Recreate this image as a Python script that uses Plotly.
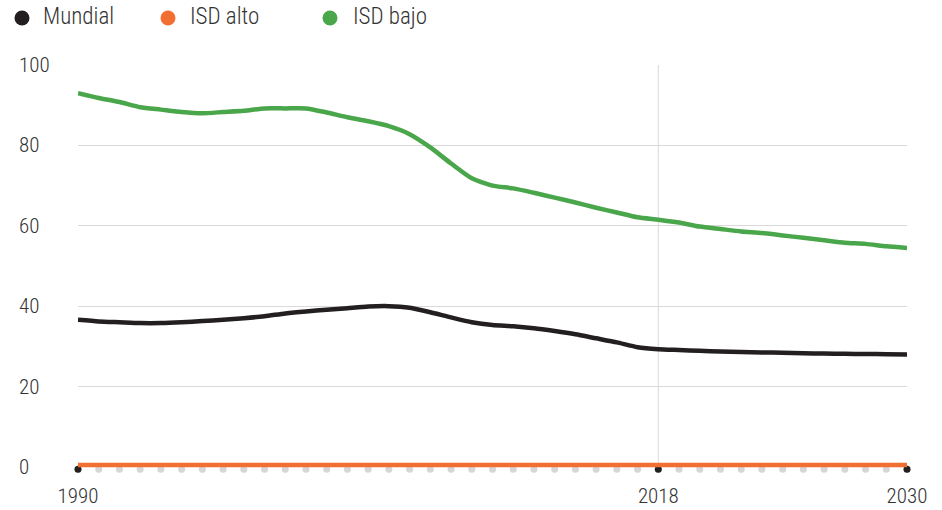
import plotly.graph_objects as go

years = list(range(1990, 2031))
mundial = [36.6, 36.2, 36.0, 35.8, 35.8, 36.0, 36.3, 36.6, 37.0, 37.5,
           38.2, 38.7, 39.1, 39.5, 39.9, 40.0, 39.6, 38.5, 37.2, 36.0,
           35.3, 35.0, 34.5, 33.8, 33.0, 32.0, 31.0, 29.8, 29.3, 29.1,
           28.9, 28.7, 28.6, 28.5, 28.4, 28.3, 28.2, 28.15, 28.1, 28.05, 28.0]
isd_alto = [0.5] * 41
isd_bajo = [93.0, 91.8, 90.8, 89.5, 88.9, 88.3, 88.0, 88.3, 88.6, 89.2,
            89.2, 89.2, 88.2, 87.0, 86.0, 84.8, 82.8, 79.5, 75.5, 71.8,
            70.0, 69.3, 68.2, 67.0, 65.8, 64.5, 63.3, 62.1, 61.5, 60.8,
            59.8, 59.2, 58.6, 58.2, 57.6, 57.0, 56.4, 55.8, 55.5, 54.9, 54.5]
x_ticks = [1990, 2018, 2030]
y_ticks = [0, 20, 40, 60, 80, 100]
highlight_year = 2018
axis_dot_level = -0.6

names = ["Mundial", "ISD alto", "ISD bajo"]
colors = ["#231f20", "#f26f33", "#4aa64a"]
series = [mundial, isd_alto, isd_bajo]

FONT = "Roboto Condensed, Liberation Sans, sans-serif"
TXT = "#333333"

# layout geometry (pixels)
W, H = 942, 510
L, R, T, B = 78, 35, 65, 35
pw, ph = W - L - R, H - T - B


def px_x(p):
    return (p - L) / pw


def px_y(p):
    return (H - B - p) / ph


fig = go.Figure()

# axis dots
fig.add_trace(go.Scatter(x=years, y=[axis_dot_level] * len(years), mode="markers",
                         marker=dict(size=7, color="#d6d6d6"), showlegend=False,
                         hoverinfo="skip", cliponaxis=False))
fig.add_trace(go.Scatter(x=x_ticks, y=[axis_dot_level] * len(x_ticks), mode="markers",
                         marker=dict(size=7, color="#231f20"), showlegend=False,
                         hoverinfo="skip", cliponaxis=False))

for nm, col, ser in zip(names, colors, series):
    fig.add_trace(go.Scatter(x=years, y=ser, mode="lines", name=nm,
                             line=dict(color=col, width=4.5, shape="spline", smoothing=0.6),
                             showlegend=False, cliponaxis=False))

fig.add_shape(type="line", xref="x", yref="y", x0=highlight_year, x1=highlight_year,
              y0=0, y1=100, line=dict(color="#d9d9d9", width=1), layer="below")

# legend (dots + text)
legend_dot_px = [22, 168, 330]
legend_text_px = [41, 188, 351]
legend_y_px = 18
for nm, col, dx, tx in zip(names, colors, legend_dot_px, legend_text_px):
    fig.add_shape(type="circle", xref="paper", yref="paper",
                  xsizemode="pixel", ysizemode="pixel",
                  xanchor=px_x(dx), yanchor=px_y(legend_y_px),
                  x0=-7.5, x1=7.5, y0=-7.5, y1=7.5,
                  fillcolor=col, line=dict(width=0))
    fig.add_annotation(x=px_x(tx), xref="paper", y=px_y(legend_y_px - 1), yref="paper",
                       text=nm, showarrow=False, xanchor="left", yanchor="middle",
                       font=dict(family=FONT, size=23, color=TXT, weight=300))

for v in y_ticks:
    fig.add_annotation(x=px_x(17), xref="paper", y=v, yref="y", text=str(v),
                       showarrow=False, xanchor="left", yanchor="middle",
                       font=dict(family=FONT, size=21, color=TXT, weight=300))

fig.update_layout(
    width=W, height=H,
    margin=dict(l=L, r=R, t=T, b=B, autoexpand=False),
    paper_bgcolor="white", plot_bgcolor="white", showlegend=False,
    xaxis=dict(range=[1990, 2030], tickvals=x_ticks, showgrid=False, zeroline=False,
               ticks="outside", ticklen=2, tickcolor="rgba(0,0,0,0)", showline=False,
               automargin=False,
               tickfont=dict(family=FONT, size=21, color=TXT, weight=300)),
    yaxis=dict(range=[-2, 100], tickvals=y_ticks, showgrid=True, gridcolor="#d9d9d9",
               gridwidth=1, zeroline=False, showticklabels=False, showline=False,
               automargin=False),
)

fig.write_html("out.html", config={"displayModeBar": False},
               post_script="document.body.style.margin='0';document.body.style.padding='0';")
